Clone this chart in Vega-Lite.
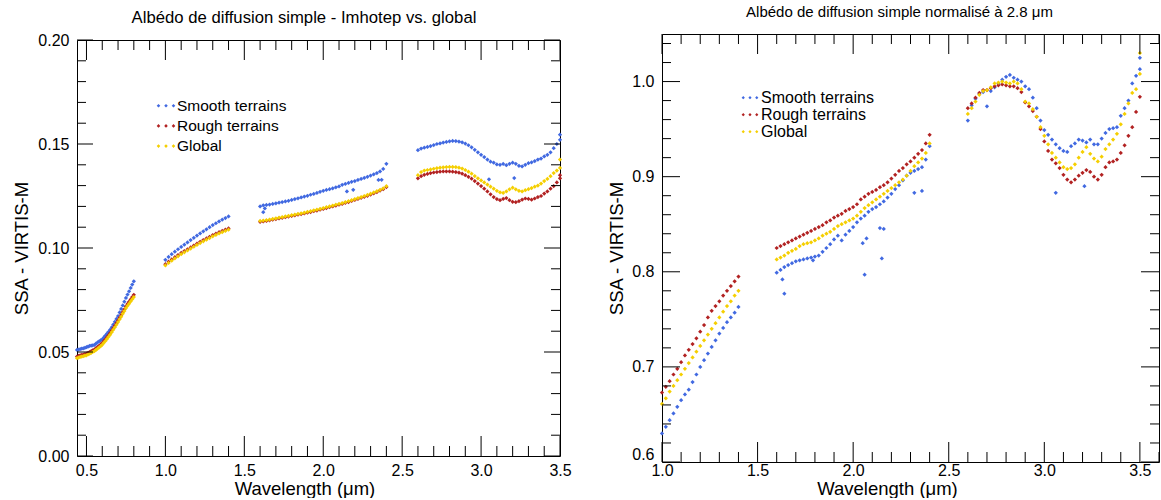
{
"$schema": "https://vega.github.io/schema/vega-lite/v6.json",
"background": "white",
"padding": {"left": 12, "top": 4, "right": 0, "bottom": 0},
"bounds": "flush",
"center": true,
"spacing": 102,
"config": {
 "font": "Liberation Sans",
 "view": {"stroke": "black", "strokeWidth": 1},
 "axis": {"domain": false, "ticks": false, "grid": false, "labelColor": "black", "titleColor": "black", "labelFont": "Liberation Sans", "titleFont": "Liberation Sans", "labelFontSize": 16, "titleFontSize": 18.5, "titleFontWeight": "normal", "labelFlush": false},
 "title": {"font": "Liberation Sans", "fontWeight": "normal", "color": "black", "anchor": "middle"},
 "legend": {"labelFont": "Liberation Sans", "labelColor": "black"},
 "tick": {"thickness": 1, "color": "black", "opacity": 1}
},
"resolve": {"scale": {"color": "independent"}, "legend": {"color": "independent"}},
"datasets": {
"LX": [{"t":0.5,"m":1},{"t":0.6,"m":0},{"t":0.7,"m":0},{"t":0.8,"m":0},{"t":0.9,"m":0},{"t":1.0,"m":1},{"t":1.1,"m":0},{"t":1.2,"m":0},{"t":1.3,"m":0},{"t":1.4,"m":0},{"t":1.5,"m":1},{"t":1.6,"m":0},{"t":1.7,"m":0},{"t":1.8,"m":0},{"t":1.9,"m":0},{"t":2.0,"m":1},{"t":2.1,"m":0},{"t":2.2,"m":0},{"t":2.3,"m":0},{"t":2.4,"m":0},{"t":2.5,"m":1},{"t":2.6,"m":0},{"t":2.7,"m":0},{"t":2.8,"m":0},{"t":2.9,"m":0},{"t":3.0,"m":1},{"t":3.1,"m":0},{"t":3.2,"m":0},{"t":3.3,"m":0},{"t":3.4,"m":0},{"t":3.5,"m":1}],
"LY": [{"t":0,"m":1},{"t":0.01,"m":0},{"t":0.02,"m":0},{"t":0.03,"m":0},{"t":0.04,"m":0},{"t":0.05,"m":1},{"t":0.06,"m":0},{"t":0.07,"m":0},{"t":0.08,"m":0},{"t":0.09,"m":0},{"t":0.1,"m":1},{"t":0.11,"m":0},{"t":0.12,"m":0},{"t":0.13,"m":0},{"t":0.14,"m":0},{"t":0.15,"m":1},{"t":0.16,"m":0},{"t":0.17,"m":0},{"t":0.18,"m":0},{"t":0.19,"m":0},{"t":0.2,"m":1}],
"NX": [{"t":1.0,"m":1},{"t":1.1,"m":0},{"t":1.2,"m":0},{"t":1.3,"m":0},{"t":1.4,"m":0},{"t":1.5,"m":1},{"t":1.6,"m":0},{"t":1.7,"m":0},{"t":1.8,"m":0},{"t":1.9,"m":0},{"t":2.0,"m":1},{"t":2.1,"m":0},{"t":2.2,"m":0},{"t":2.3,"m":0},{"t":2.4,"m":0},{"t":2.5,"m":1},{"t":2.6,"m":0},{"t":2.7,"m":0},{"t":2.8,"m":0},{"t":2.9,"m":0},{"t":3.0,"m":1},{"t":3.1,"m":0},{"t":3.2,"m":0},{"t":3.3,"m":0},{"t":3.4,"m":0},{"t":3.5,"m":1},{"t":3.6,"m":0}],
"NY": [{"t":0.6,"m":1},{"t":0.62,"m":0},{"t":0.64,"m":0},{"t":0.66,"m":0},{"t":0.68,"m":0},{"t":0.7,"m":1},{"t":0.72,"m":0},{"t":0.74,"m":0},{"t":0.76,"m":0},{"t":0.78,"m":0},{"t":0.8,"m":1},{"t":0.82,"m":0},{"t":0.84,"m":0},{"t":0.86,"m":0},{"t":0.88,"m":0},{"t":0.9,"m":1},{"t":0.92,"m":0},{"t":0.94,"m":0},{"t":0.96,"m":0},{"t":0.98,"m":0},{"t":1.0,"m":1},{"t":1.02,"m":0},{"t":1.04,"m":0}],
"L": [
{"w":0.44,"S":0.0510,"R":0.0478,"G":0.0470},
{"w":0.45,"S":0.0512,"R":0.0481,"G":0.0473},
{"w":0.46,"S":0.0514,"R":0.0484,"G":0.0476},
{"w":0.47,"S":0.0516,"R":0.0486,"G":0.0478},
{"w":0.48,"S":0.0518,"R":0.0488,"G":0.0480},
{"w":0.49,"S":0.0520,"R":0.0490,"G":0.0482},
{"w":0.50,"S":0.0523,"R":0.0492,"G":0.0484},
{"w":0.51,"S":0.0526,"R":0.0496,"G":0.0488},
{"w":0.52,"S":0.0529,"R":0.0500,"G":0.0492},
{"w":0.53,"S":0.0531,"R":0.0504,"G":0.0496},
{"w":0.54,"S":0.0532,"R":0.0508,"G":0.0500},
{"w":0.55,"S":0.0534,"R":0.0512,"G":0.0504},
{"w":0.56,"S":0.0540,"R":0.0518,"G":0.0510},
{"w":0.57,"S":0.0546,"R":0.0524,"G":0.0516},
{"w":0.58,"S":0.0551,"R":0.0530,"G":0.0522},
{"w":0.59,"S":0.0556,"R":0.0536,"G":0.0528},
{"w":0.60,"S":0.0561,"R":0.0543,"G":0.0535},
{"w":0.61,"S":0.0570,"R":0.0552,"G":0.0544},
{"w":0.62,"S":0.0579,"R":0.0561,"G":0.0553},
{"w":0.63,"S":0.0588,"R":0.0571,"G":0.0563},
{"w":0.64,"S":0.0597,"R":0.0581,"G":0.0573},
{"w":0.65,"S":0.0607,"R":0.0591,"G":0.0583},
{"w":0.66,"S":0.0619,"R":0.0603,"G":0.0595},
{"w":0.67,"S":0.0632,"R":0.0615,"G":0.0607},
{"w":0.68,"S":0.0645,"R":0.0627,"G":0.0619},
{"w":0.69,"S":0.0659,"R":0.0639,"G":0.0631},
{"w":0.70,"S":0.0673,"R":0.0652,"G":0.0644},
{"w":0.71,"S":0.0690,"R":0.0665,"G":0.0657},
{"w":0.72,"S":0.0707,"R":0.0678,"G":0.0670},
{"w":0.73,"S":0.0724,"R":0.0692,"G":0.0684},
{"w":0.74,"S":0.0742,"R":0.0705,"G":0.0697},
{"w":0.75,"S":0.0760,"R":0.0719,"G":0.0711},
{"w":0.76,"S":0.0776,"R":0.0731,"G":0.0722},
{"w":0.77,"S":0.0792,"R":0.0742,"G":0.0732},
{"w":0.78,"S":0.0808,"R":0.0753,"G":0.0743},
{"w":0.79,"S":0.0824,"R":0.0764,"G":0.0754},
{"w":0.80,"S":0.0840,"R":0.0775,"G":0.0764},
{"w":1.00,"S":0.0943,"R":0.0922,"G":0.0916},
{"w":1.02,"S":0.0957,"R":0.0934,"G":0.0928},
{"w":1.04,"S":0.0970,"R":0.0945,"G":0.0939},
{"w":1.06,"S":0.0982,"R":0.0956,"G":0.0950},
{"w":1.08,"S":0.0994,"R":0.0966,"G":0.0960},
{"w":1.10,"S":0.1005,"R":0.0976,"G":0.0970},
{"w":1.12,"S":0.1016,"R":0.0985,"G":0.0979},
{"w":1.14,"S":0.1027,"R":0.0994,"G":0.0988},
{"w":1.16,"S":0.1038,"R":0.1003,"G":0.0997},
{"w":1.18,"S":0.1049,"R":0.1012,"G":0.1006},
{"w":1.20,"S":0.1060,"R":0.1021,"G":0.1015},
{"w":1.22,"S":0.1070,"R":0.1030,"G":0.1024},
{"w":1.24,"S":0.1080,"R":0.1038,"G":0.1032},
{"w":1.26,"S":0.1090,"R":0.1046,"G":0.1040},
{"w":1.28,"S":0.1100,"R":0.1054,"G":0.1048},
{"w":1.30,"S":0.1110,"R":0.1062,"G":0.1056},
{"w":1.32,"S":0.1119,"R":0.1069,"G":0.1063},
{"w":1.34,"S":0.1128,"R":0.1076,"G":0.1070},
{"w":1.36,"S":0.1136,"R":0.1082,"G":0.1076},
{"w":1.38,"S":0.1144,"R":0.1088,"G":0.1082},
{"w":1.40,"S":0.1152,"R":0.1094,"G":0.1088},
{"w":1.60,"S":0.1200,"R":0.1126,"G":0.1130},
{"w":1.62,"S":0.1205,"R":0.1128,"G":0.1132},
{"w":1.64,"S":0.1207,"R":0.1130,"G":0.1134},
{"w":1.66,"S":0.1209,"R":0.1133,"G":0.1137},
{"w":1.68,"S":0.1212,"R":0.1136,"G":0.1140},
{"w":1.70,"S":0.1215,"R":0.1139,"G":0.1143},
{"w":1.72,"S":0.1218,"R":0.1142,"G":0.1146},
{"w":1.74,"S":0.1221,"R":0.1145,"G":0.1149},
{"w":1.76,"S":0.1224,"R":0.1148,"G":0.1152},
{"w":1.78,"S":0.1227,"R":0.1151,"G":0.1155},
{"w":1.80,"S":0.1231,"R":0.1154,"G":0.1158},
{"w":1.82,"S":0.1235,"R":0.1157,"G":0.1161},
{"w":1.84,"S":0.1239,"R":0.1160,"G":0.1164},
{"w":1.86,"S":0.1243,"R":0.1163,"G":0.1167},
{"w":1.88,"S":0.1247,"R":0.1166,"G":0.1170},
{"w":1.90,"S":0.1251,"R":0.1170,"G":0.1174},
{"w":1.92,"S":0.1256,"R":0.1173,"G":0.1177},
{"w":1.94,"S":0.1260,"R":0.1177,"G":0.1181},
{"w":1.96,"S":0.1265,"R":0.1180,"G":0.1184},
{"w":1.98,"S":0.1270,"R":0.1184,"G":0.1188},
{"w":2.00,"S":0.1275,"R":0.1188,"G":0.1192},
{"w":2.02,"S":0.1279,"R":0.1192,"G":0.1196},
{"w":2.04,"S":0.1283,"R":0.1196,"G":0.1200},
{"w":2.06,"S":0.1287,"R":0.1200,"G":0.1204},
{"w":2.08,"S":0.1292,"R":0.1204,"G":0.1208},
{"w":2.10,"S":0.1296,"R":0.1208,"G":0.1212},
{"w":2.12,"S":0.1304,"R":0.1212,"G":0.1216},
{"w":2.14,"S":0.1308,"R":0.1217,"G":0.1221},
{"w":2.16,"S":0.1313,"R":0.1221,"G":0.1225},
{"w":2.18,"S":0.1318,"R":0.1226,"G":0.1230},
{"w":2.20,"S":0.1322,"R":0.1231,"G":0.1235},
{"w":2.22,"S":0.1327,"R":0.1236,"G":0.1240},
{"w":2.24,"S":0.1332,"R":0.1241,"G":0.1245},
{"w":2.26,"S":0.1337,"R":0.1246,"G":0.1250},
{"w":2.28,"S":0.1342,"R":0.1251,"G":0.1255},
{"w":2.30,"S":0.1348,"R":0.1257,"G":0.1261},
{"w":2.32,"S":0.1354,"R":0.1263,"G":0.1267},
{"w":2.34,"S":0.1360,"R":0.1269,"G":0.1273},
{"w":2.36,"S":0.1368,"R":0.1276,"G":0.1280},
{"w":2.38,"S":0.1380,"R":0.1283,"G":0.1287},
{"w":2.40,"S":0.1405,"R":0.1293,"G":0.1297},
{"w":1.62,"S":0.1172},
{"w":1.63,"S":0.1190},
{"w":2.15,"S":0.1272},
{"w":2.19,"S":0.1280},
{"w":2.35,"S":0.1327},
{"w":2.37,"S":0.1328},
{"w":2.60,"S":0.1470,"R":0.1335,"G":0.1350},
{"w":2.62,"S":0.1478,"R":0.1345,"G":0.1365},
{"w":2.64,"S":0.1482,"R":0.1352,"G":0.1372},
{"w":2.66,"S":0.1486,"R":0.1356,"G":0.1375},
{"w":2.68,"S":0.1490,"R":0.1360,"G":0.1378},
{"w":2.70,"S":0.1495,"R":0.1363,"G":0.1381},
{"w":2.72,"S":0.1500,"R":0.1365,"G":0.1384},
{"w":2.74,"S":0.1503,"R":0.1367,"G":0.1386},
{"w":2.76,"S":0.1507,"R":0.1368,"G":0.1388},
{"w":2.78,"S":0.1510,"R":0.1368,"G":0.1389},
{"w":2.80,"S":0.1513,"R":0.1368,"G":0.1390},
{"w":2.82,"S":0.1515,"R":0.1367,"G":0.1390},
{"w":2.84,"S":0.1514,"R":0.1365,"G":0.1389},
{"w":2.86,"S":0.1512,"R":0.1362,"G":0.1386},
{"w":2.88,"S":0.1508,"R":0.1357,"G":0.1382},
{"w":2.90,"S":0.1502,"R":0.1350,"G":0.1375},
{"w":2.92,"S":0.1494,"R":0.1342,"G":0.1367},
{"w":2.94,"S":0.1484,"R":0.1333,"G":0.1357},
{"w":2.96,"S":0.1472,"R":0.1322,"G":0.1346},
{"w":2.98,"S":0.1460,"R":0.1310,"G":0.1335},
{"w":3.00,"S":0.1448,"R":0.1298,"G":0.1325},
{"w":3.02,"S":0.1437,"R":0.1285,"G":0.1315},
{"w":3.04,"S":0.1425,"R":0.1272,"G":0.1305},
{"w":3.06,"S":0.1415,"R":0.1258,"G":0.1295},
{"w":3.08,"S":0.1410,"R":0.1245,"G":0.1285},
{"w":3.10,"S":0.1402,"R":0.1235,"G":0.1275},
{"w":3.12,"S":0.1400,"R":0.1230,"G":0.1268},
{"w":3.14,"S":0.1404,"R":0.1236,"G":0.1265},
{"w":3.16,"S":0.1398,"R":0.1240,"G":0.1272},
{"w":3.18,"S":0.1405,"R":0.1230,"G":0.1282},
{"w":3.20,"S":0.1410,"R":0.1222,"G":0.1290},
{"w":3.22,"S":0.1405,"R":0.1220,"G":0.1282},
{"w":3.24,"S":0.1395,"R":0.1225,"G":0.1275},
{"w":3.26,"S":0.1392,"R":0.1232,"G":0.1272},
{"w":3.28,"S":0.1400,"R":0.1238,"G":0.1278},
{"w":3.30,"S":0.1408,"R":0.1236,"G":0.1283},
{"w":3.32,"S":0.1412,"R":0.1232,"G":0.1288},
{"w":3.34,"S":0.1418,"R":0.1238,"G":0.1295},
{"w":3.36,"S":0.1425,"R":0.1245,"G":0.1300},
{"w":3.38,"S":0.1430,"R":0.1250,"G":0.1310},
{"w":3.40,"S":0.1440,"R":0.1262,"G":0.1322},
{"w":3.42,"S":0.1448,"R":0.1272,"G":0.1332},
{"w":3.44,"S":0.1460,"R":0.1285,"G":0.1345},
{"w":3.46,"S":0.1480,"R":0.1298,"G":0.1360},
{"w":3.48,"S":0.1500,"R":0.1315,"G":0.1372},
{"w":3.50,"S":0.1520,"R":0.1335,"G":0.1385},
{"w":3.05,"S":0.1330},
{"w":3.21,"S":0.1336},
{"w":3.50,"S":0.1545,"R":0.1350,"G":0.1425}
],
"N": [
{"w":1.00,"S":0.630,"R":0.673,"G":0.661},
{"w":1.02,"S":0.637,"R":0.679,"G":0.667},
{"w":1.04,"S":0.644,"R":0.685,"G":0.674},
{"w":1.06,"S":0.651,"R":0.692,"G":0.680},
{"w":1.08,"S":0.658,"R":0.698,"G":0.686},
{"w":1.10,"S":0.665,"R":0.705,"G":0.692},
{"w":1.12,"S":0.671,"R":0.712,"G":0.698},
{"w":1.14,"S":0.676,"R":0.718,"G":0.704},
{"w":1.16,"S":0.684,"R":0.724,"G":0.710},
{"w":1.18,"S":0.692,"R":0.730,"G":0.716},
{"w":1.20,"S":0.700,"R":0.737,"G":0.722},
{"w":1.22,"S":0.707,"R":0.744,"G":0.728},
{"w":1.24,"S":0.714,"R":0.752,"G":0.734},
{"w":1.26,"S":0.721,"R":0.759,"G":0.740},
{"w":1.28,"S":0.728,"R":0.764,"G":0.746},
{"w":1.30,"S":0.735,"R":0.769,"G":0.752},
{"w":1.32,"S":0.741,"R":0.775,"G":0.758},
{"w":1.34,"S":0.747,"R":0.780,"G":0.764},
{"w":1.36,"S":0.752,"R":0.785,"G":0.769},
{"w":1.38,"S":0.757,"R":0.790,"G":0.775},
{"w":1.40,"S":0.763,"R":0.795,"G":0.780},
{"w":1.60,"S":0.799,"R":0.825,"G":0.813},
{"w":1.62,"S":0.802,"R":0.827,"G":0.815},
{"w":1.64,"S":0.805,"R":0.829,"G":0.817},
{"w":1.66,"S":0.807,"R":0.831,"G":0.820},
{"w":1.68,"S":0.809,"R":0.833,"G":0.822},
{"w":1.70,"S":0.811,"R":0.835,"G":0.824},
{"w":1.72,"S":0.812,"R":0.837,"G":0.827},
{"w":1.74,"S":0.813,"R":0.839,"G":0.829},
{"w":1.76,"S":0.814,"R":0.841,"G":0.830},
{"w":1.78,"S":0.815,"R":0.843,"G":0.831},
{"w":1.80,"S":0.816,"R":0.845,"G":0.833},
{"w":1.82,"S":0.817,"R":0.847,"G":0.835},
{"w":1.84,"S":0.821,"R":0.849,"G":0.838},
{"w":1.86,"S":0.825,"R":0.852,"G":0.840},
{"w":1.88,"S":0.829,"R":0.854,"G":0.842},
{"w":1.90,"S":0.834,"R":0.857,"G":0.845},
{"w":1.92,"S":0.838,"R":0.859,"G":0.848},
{"w":1.94,"S":0.833,"R":0.861,"G":0.850},
{"w":1.96,"S":0.839,"R":0.864,"G":0.852},
{"w":1.98,"S":0.843,"R":0.866,"G":0.854},
{"w":2.00,"S":0.847,"R":0.868,"G":0.856},
{"w":2.02,"S":0.852,"R":0.871,"G":0.859},
{"w":2.04,"S":0.856,"R":0.876,"G":0.863},
{"w":2.06,"S":0.859,"R":0.879,"G":0.867},
{"w":2.08,"S":0.863,"R":0.882,"G":0.870},
{"w":2.10,"S":0.866,"R":0.884,"G":0.873},
{"w":2.12,"S":0.868,"R":0.886,"G":0.876},
{"w":2.14,"S":0.871,"R":0.889,"G":0.879},
{"w":2.16,"S":0.874,"R":0.891,"G":0.882},
{"w":2.18,"S":0.878,"R":0.894,"G":0.885},
{"w":2.20,"S":0.882,"R":0.898,"G":0.888},
{"w":2.22,"S":0.887,"R":0.902,"G":0.891},
{"w":2.24,"S":0.891,"R":0.906,"G":0.894},
{"w":2.26,"S":0.896,"R":0.909,"G":0.897},
{"w":2.28,"S":0.901,"R":0.913,"G":0.901},
{"w":2.30,"S":0.904,"R":0.916,"G":0.906},
{"w":2.32,"S":0.906,"R":0.920,"G":0.911},
{"w":2.34,"S":0.908,"R":0.924,"G":0.915},
{"w":2.36,"S":0.910,"R":0.928,"G":0.919},
{"w":2.38,"S":0.918,"R":0.935,"G":0.925},
{"w":2.40,"S":0.932,"R":0.944,"G":0.935},
{"w":1.63,"S":0.792},
{"w":1.64,"S":0.777},
{"w":1.79,"S":0.812},
{"w":2.05,"S":0.830},
{"w":2.06,"S":0.797},
{"w":2.07,"S":0.835},
{"w":2.14,"S":0.846},
{"w":2.16,"S":0.845},
{"w":2.15,"S":0.814},
{"w":2.32,"S":0.883},
{"w":2.36,"S":0.885},
{"w":2.60,"S":0.959,"R":0.972,"G":0.966},
{"w":2.62,"S":0.975,"R":0.977,"G":0.972},
{"w":2.64,"S":0.982,"R":0.983,"G":0.979},
{"w":2.66,"S":0.987,"R":0.988,"G":0.986},
{"w":2.68,"S":0.989,"R":0.991,"G":0.990},
{"w":2.70,"S":0.974,"R":0.991,"G":0.991},
{"w":2.72,"S":0.990,"R":0.993,"G":0.994},
{"w":2.74,"S":0.994,"R":0.995,"G":0.998},
{"w":2.76,"S":0.998,"R":0.996,"G":0.999},
{"w":2.78,"S":1.002,"R":0.997,"G":1.000},
{"w":2.80,"S":1.005,"R":0.996,"G":0.999},
{"w":2.82,"S":1.007,"R":0.995,"G":0.998},
{"w":2.84,"S":1.004,"R":0.995,"G":1.000},
{"w":2.86,"S":1.002,"R":0.993,"G":0.998},
{"w":2.88,"S":1.000,"R":0.989,"G":0.992},
{"w":2.90,"S":0.995,"R":0.978,"G":0.979},
{"w":2.92,"S":0.992,"R":0.974,"G":0.977},
{"w":2.94,"S":0.983,"R":0.969,"G":0.971},
{"w":2.96,"S":0.972,"R":0.963,"G":0.963},
{"w":2.98,"S":0.959,"R":0.950,"G":0.952},
{"w":3.00,"S":0.949,"R":0.937,"G":0.943},
{"w":3.02,"S":0.944,"R":0.927,"G":0.934},
{"w":3.04,"S":0.939,"R":0.918,"G":0.925},
{"w":3.06,"S":0.934,"R":0.914,"G":0.920},
{"w":3.08,"S":0.930,"R":0.909,"G":0.915},
{"w":3.10,"S":0.927,"R":0.902,"G":0.910},
{"w":3.12,"S":0.926,"R":0.897,"G":0.908},
{"w":3.14,"S":0.932,"R":0.894,"G":0.909},
{"w":3.16,"S":0.935,"R":0.897,"G":0.913},
{"w":3.18,"S":0.939,"R":0.901,"G":0.920},
{"w":3.20,"S":0.938,"R":0.904,"G":0.926},
{"w":3.22,"S":0.936,"R":0.907,"G":0.931},
{"w":3.24,"S":0.939,"R":0.905,"G":0.924},
{"w":3.26,"S":0.934,"R":0.900,"G":0.919},
{"w":3.28,"S":0.934,"R":0.897,"G":0.916},
{"w":3.30,"S":0.940,"R":0.902,"G":0.921},
{"w":3.32,"S":0.946,"R":0.910,"G":0.929},
{"w":3.34,"S":0.950,"R":0.915,"G":0.934},
{"w":3.36,"S":0.951,"R":0.916,"G":0.939},
{"w":3.38,"S":0.952,"R":0.918,"G":0.945},
{"w":3.40,"S":0.964,"R":0.925,"G":0.955},
{"w":3.42,"S":0.972,"R":0.933,"G":0.966},
{"w":3.44,"S":0.980,"R":0.943,"G":0.977},
{"w":3.46,"S":0.998,"R":0.952,"G":0.988},
{"w":3.48,"S":1.006,"R":0.968,"G":0.992},
{"w":3.50,"S":1.025,"R":0.984,"G":1.008},
{"w":3.06,"S":0.883},
{"w":3.21,"S":0.890},
{"w":3.50,"S":1.013,"G":1.030}
]
},
"hconcat": [
{
 "width": 483, "height": 416,
 "title": {"text": "Albédo de diffusion simple - Imhotep vs. global", "dx": -14.5, "fontSize": 16.7, "offset": 5},
 "resolve": {"axis": {"x": "independent", "y": "independent"}},
 "layer": [
  {"data": {"name": "L"},
   "transform": [{"fold": ["S","R","G"], "as": ["k","v"]}, {"filter": "isValid(datum.v)"}],
   "mark": {"type": "point", "shape": "diamond", "filled": true, "size": 18, "opacity": 1},
   "encoding": {
    "x": {"field": "w", "type": "quantitative", "scale": {"domain": [0.44, 3.5], "nice": false, "zero": false},
          "axis": {"orient": "bottom", "values": [0.5,1,1.5,2,2.5,3,3.5], "format": ".1f", "labelPadding": 6, "title": "Wavelength (μm)", "titlePadding": 1, "titleX": 227.5}},
    "y": {"field": "v", "type": "quantitative", "scale": {"domain": [0, 0.2], "nice": false, "zero": false},
          "axis": {"orient": "left", "values": [0,0.05,0.1,0.15,0.2], "format": ".2f", "labelPadding": 8, "title": "SSA - VIRTIS-M", "titlePadding": 6}},
    "color": {"field": "k", "type": "nominal", "scale": {"domain": ["S","R","G"], "range": ["#4169e1","#b22222","#f5cf00"]},
      "legend": {"orient": "none", "legendX": 79, "legendY": 55.7, "title": null, "symbolType": "M-0.93,0L-0.75,-0.18L-0.57,0L-0.75,0.18ZM-0.18,0L0,-0.18L0.18,0L0,0.18ZM0.57,0L0.75,-0.18L0.93,0L0.75,0.18Z", "symbolSize": 400, "symbolStrokeWidth": 0, "labelFontSize": 15.5, "rowPadding": 1.2, "padding": 0, "labelOffset": 1,
        "labelExpr": "datum.label == 'S' ? 'Smooth terrains' : datum.label == 'R' ? 'Rough terrains' : 'Global'"}},
    "order": {"field": "k", "sort": "descending"}
   }},
  {"data": {"name": "LX"}, "transform": [{"filter": "datum.m == 1"}],
   "mark": {"type": "tick", "orient": "vertical", "size": 20, "yOffset": -10},
   "encoding": {"x": {"field": "t", "type": "quantitative", "axis": null}, "y": {"datum": 0, "type": "quantitative", "axis": null}}},
  {"data": {"name": "LX"}, "transform": [{"filter": "datum.m == 0"}],
   "mark": {"type": "tick", "orient": "vertical", "size": 10, "yOffset": -5},
   "encoding": {"x": {"field": "t", "type": "quantitative", "axis": null}, "y": {"datum": 0, "type": "quantitative", "axis": null}}},
  {"data": {"name": "LX"}, "transform": [{"filter": "datum.m == 1"}],
   "mark": {"type": "tick", "orient": "vertical", "size": 20, "yOffset": 10},
   "encoding": {"x": {"field": "t", "type": "quantitative", "axis": null}, "y": {"datum": 0.2, "type": "quantitative", "axis": null}}},
  {"data": {"name": "LX"}, "transform": [{"filter": "datum.m == 0"}],
   "mark": {"type": "tick", "orient": "vertical", "size": 10, "yOffset": 5},
   "encoding": {"x": {"field": "t", "type": "quantitative", "axis": null}, "y": {"datum": 0.2, "type": "quantitative", "axis": null}}},
  {"data": {"name": "LY"}, "transform": [{"filter": "datum.m == 1"}],
   "mark": {"type": "tick", "orient": "horizontal", "size": 16, "xOffset": 8},
   "encoding": {"y": {"field": "t", "type": "quantitative", "axis": null}, "x": {"datum": 0.44, "type": "quantitative", "axis": null}}},
  {"data": {"name": "LY"}, "transform": [{"filter": "datum.m == 0"}],
   "mark": {"type": "tick", "orient": "horizontal", "size": 9, "xOffset": 4.5},
   "encoding": {"y": {"field": "t", "type": "quantitative", "axis": null}, "x": {"datum": 0.44, "type": "quantitative", "axis": null}}},
  {"data": {"name": "LY"}, "transform": [{"filter": "datum.m == 1"}],
   "mark": {"type": "tick", "orient": "horizontal", "size": 16, "xOffset": -8},
   "encoding": {"y": {"field": "t", "type": "quantitative", "axis": null}, "x": {"datum": 3.5, "type": "quantitative", "axis": null}}},
  {"data": {"name": "LY"}, "transform": [{"filter": "datum.m == 0"}],
   "mark": {"type": "tick", "orient": "horizontal", "size": 9, "xOffset": -4.5},
   "encoding": {"y": {"field": "t", "type": "quantitative", "axis": null}, "x": {"datum": 3.5, "type": "quantitative", "axis": null}}}
 ]
},
{
 "width": 497, "height": 428,
 "title": {"text": "Albédo de diffusion simple normalisé à 2.8 μm", "dx": -11, "fontSize": 15, "offset": 14.5},
 "resolve": {"axis": {"x": "independent", "y": "independent"}},
 "layer": [
  {"data": {"name": "N"},
   "transform": [{"fold": ["S","R","G"], "as": ["k","v"]}, {"filter": "isValid(datum.v)"}],
   "mark": {"type": "point", "shape": "diamond", "filled": true, "size": 18, "opacity": 1},
   "encoding": {
    "x": {"field": "w", "type": "quantitative", "scale": {"domain": [1.0, 3.6], "nice": false, "zero": false},
          "axis": {"orient": "bottom", "values": [1,1.5,2,2.5,3,3.5], "format": ".1f", "labelPadding": 0, "title": "Wavelength (μm)", "titlePadding": 1, "titleX": 225}},
    "y": {"field": "v", "type": "quantitative", "scale": {"domain": [0.6, 1.05], "nice": false, "zero": false},
          "axis": {"orient": "left", "values": [0.6,0.7,0.8,0.9,1.0], "format": ".1f", "labelPadding": 8, "labelFlush": true, "title": "SSA - VIRTIS-M", "titlePadding": 5}},
    "color": {"field": "k", "type": "nominal", "scale": {"domain": ["S","R","G"], "range": ["#4169e1","#b22222","#f5cf00"]},
      "legend": {"orient": "none", "legendX": 79, "legendY": 54.7, "title": null, "symbolType": "M-0.93,0L-0.75,-0.18L-0.57,0L-0.75,0.18ZM-0.18,0L0,-0.18L0.18,0L0,0.18ZM0.57,0L0.75,-0.18L0.93,0L0.75,0.18Z", "symbolSize": 324, "symbolStrokeWidth": 0, "labelFontSize": 16, "rowPadding": 0, "padding": 0, "labelOffset": 2,
        "labelExpr": "datum.label == 'S' ? 'Smooth terrains' : datum.label == 'R' ? 'Rough terrains' : 'Global'"}},
    "order": {"field": "k", "sort": "descending"}
   }},
  {"data": {"name": "NX"}, "transform": [{"filter": "datum.m == 1"}],
   "mark": {"type": "tick", "orient": "vertical", "size": 20, "yOffset": -10},
   "encoding": {"x": {"field": "t", "type": "quantitative", "axis": null}, "y": {"datum": 0.6, "type": "quantitative", "axis": null}}},
  {"data": {"name": "NX"}, "transform": [{"filter": "datum.m == 0"}],
   "mark": {"type": "tick", "orient": "vertical", "size": 10, "yOffset": -5},
   "encoding": {"x": {"field": "t", "type": "quantitative", "axis": null}, "y": {"datum": 0.6, "type": "quantitative", "axis": null}}},
  {"data": {"name": "NX"}, "transform": [{"filter": "datum.m == 1"}],
   "mark": {"type": "tick", "orient": "vertical", "size": 20, "yOffset": 10},
   "encoding": {"x": {"field": "t", "type": "quantitative", "axis": null}, "y": {"datum": 1.05, "type": "quantitative", "axis": null}}},
  {"data": {"name": "NX"}, "transform": [{"filter": "datum.m == 0"}],
   "mark": {"type": "tick", "orient": "vertical", "size": 10, "yOffset": 5},
   "encoding": {"x": {"field": "t", "type": "quantitative", "axis": null}, "y": {"datum": 1.05, "type": "quantitative", "axis": null}}},
  {"data": {"name": "NY"}, "transform": [{"filter": "datum.m == 1"}],
   "mark": {"type": "tick", "orient": "horizontal", "size": 18, "xOffset": 9},
   "encoding": {"y": {"field": "t", "type": "quantitative", "axis": null}, "x": {"datum": 1.0, "type": "quantitative", "axis": null}}},
  {"data": {"name": "NY"}, "transform": [{"filter": "datum.m == 0"}],
   "mark": {"type": "tick", "orient": "horizontal", "size": 9, "xOffset": 4.5},
   "encoding": {"y": {"field": "t", "type": "quantitative", "axis": null}, "x": {"datum": 1.0, "type": "quantitative", "axis": null}}},
  {"data": {"name": "NY"}, "transform": [{"filter": "datum.m == 1"}],
   "mark": {"type": "tick", "orient": "horizontal", "size": 18, "xOffset": -9},
   "encoding": {"y": {"field": "t", "type": "quantitative", "axis": null}, "x": {"datum": 3.6, "type": "quantitative", "axis": null}}},
  {"data": {"name": "NY"}, "transform": [{"filter": "datum.m == 0"}],
   "mark": {"type": "tick", "orient": "horizontal", "size": 9, "xOffset": -4.5},
   "encoding": {"y": {"field": "t", "type": "quantitative", "axis": null}, "x": {"datum": 3.6, "type": "quantitative", "axis": null}}}
 ]
}
]
}
